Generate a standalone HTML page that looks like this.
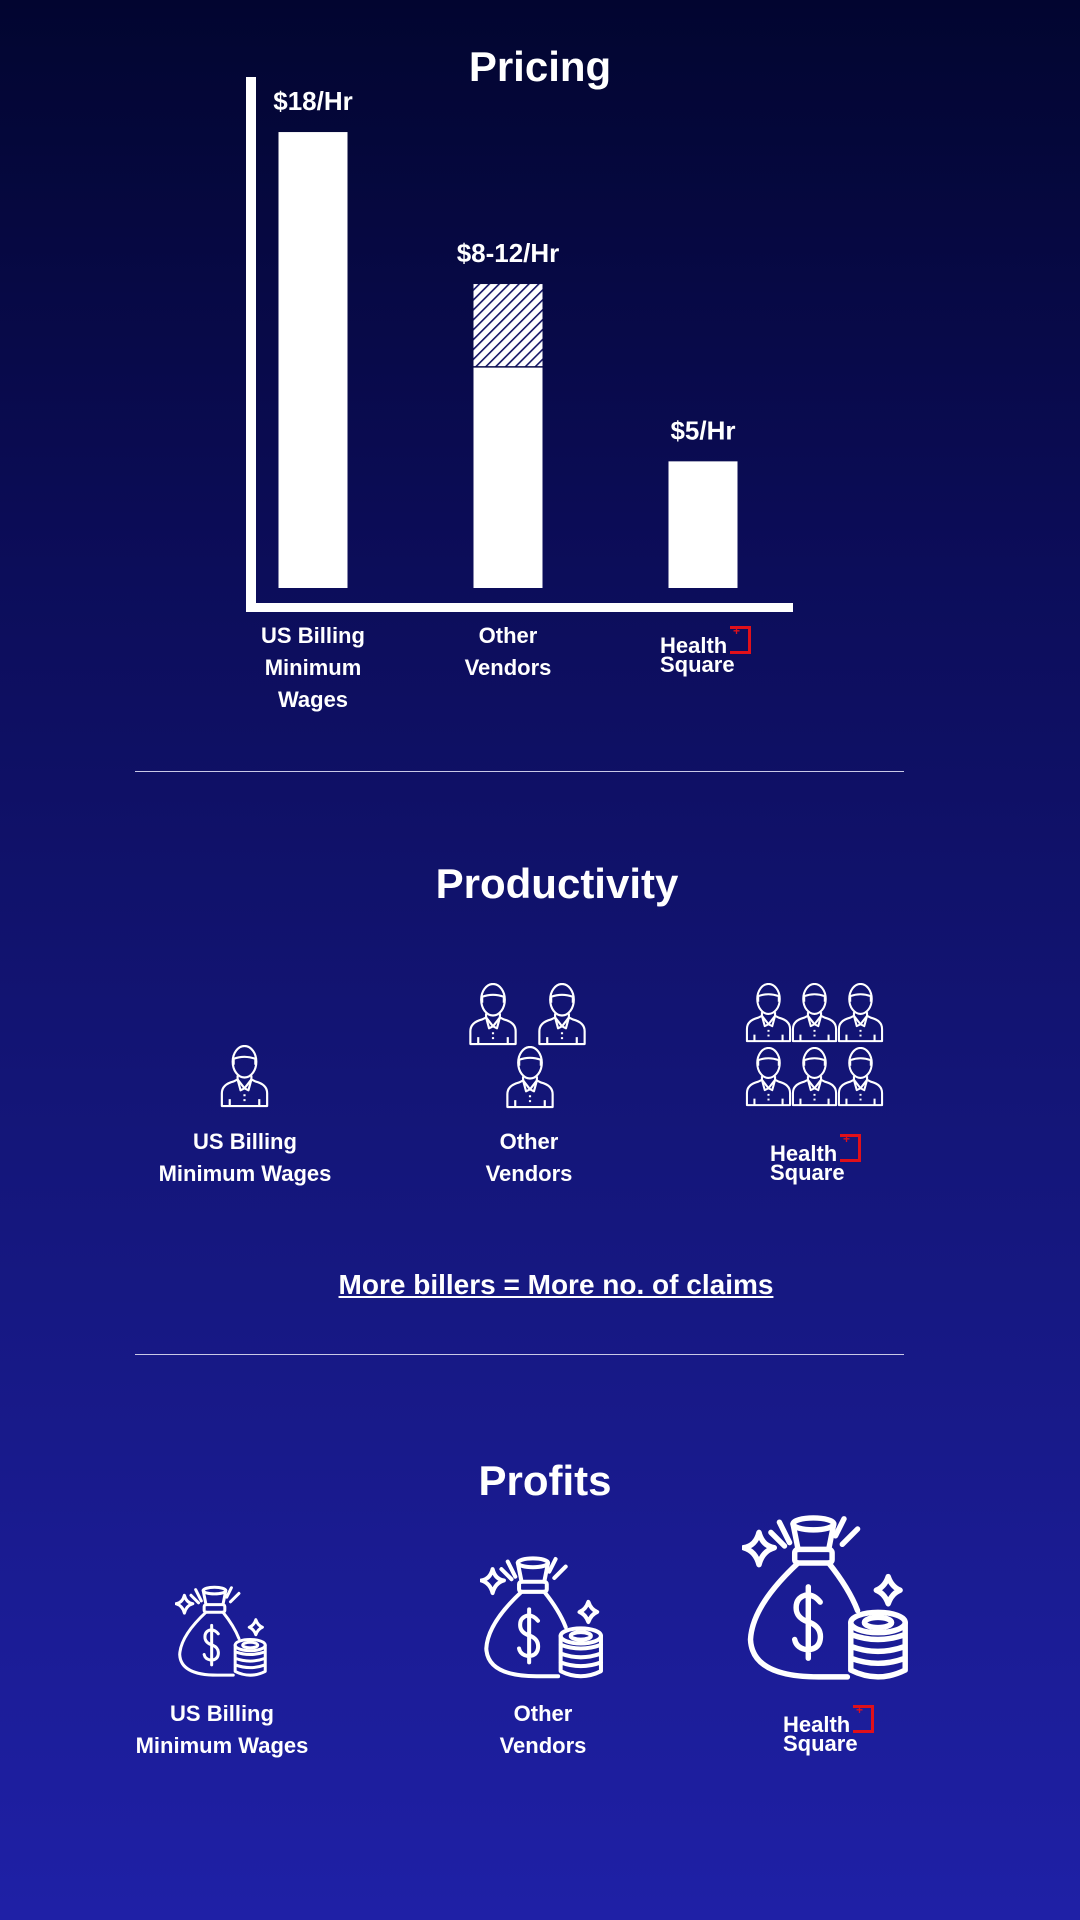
<!DOCTYPE html>
<html><head><meta charset="utf-8"><style>
html,body{margin:0;padding:0}
body{width:1080px;height:1920px;position:relative;overflow:hidden;background:linear-gradient(180deg,#020530 0%,#0c0d5a 30%,#14167a 60%,#1f20a6 100%);font-family:"Liberation Sans",sans-serif;color:#fff;font-weight:bold}
.t{position:absolute;text-align:center;white-space:nowrap}
.title{font-size:42px}
.lab{font-size:22px;line-height:32px}
.hs{position:absolute;font-size:22px;line-height:19px;text-align:left;white-space:nowrap}
.hs .h{position:relative;display:inline-block}
.hs .br{position:absolute;width:18px;height:22px;border:3px solid #e0101a;border-left:none;top:-10px;left:70px}
.hs .br::after{content:"+";position:absolute;left:3px;top:-4px;font-size:12px;line-height:12px;color:#e0101a}
.div{position:absolute;left:135px;width:769px;height:1px;background:#c9c9e6}
svg{position:absolute;left:0;top:0}
</style></head><body>
<svg width="1080" height="1920">
<defs>
<pattern id="hatch" width="7" height="7" patternUnits="userSpaceOnUse" patternTransform="rotate(45)">
<rect width="7" height="7" fill="#ffffff"/><rect width="1.6" height="7" fill="#141566"/></pattern>
<symbol id="person" viewBox="0 0 50 64">
<g fill="none" stroke="#fff" stroke-width="2.2" stroke-linejoin="round">
<ellipse cx="25" cy="17" rx="12" ry="16"/>
<path d="M14,20 L14,14 Q25,10 36,14 L36,20"/>
<path d="M2,62 L2,49 Q2,40 14,37 L18,35 L25,44 L32,35 L36,37 Q48,40 48,49 L48,62 Z"/>
<path d="M18,35 L18,31 M32,35 L32,31 M18,35 L21,46 L25,44 L29,46 L32,35"/>
<path d="M10,55 L10,62 M40,55 L40,62 M25,50 L25,52 M25,55 L25,57"/>
</g></symbol>
<symbol id="bag" viewBox="0 0 100 100">
<g fill="none" stroke="#fff" stroke-width="3.2" stroke-linecap="round" stroke-linejoin="round">
<ellipse cx="42" cy="7" rx="12" ry="3.5"/>
<path d="M30,7 L33,22 M54,7 L51,22"/>
<rect x="31" y="22" width="22" height="8" rx="2"/>
<path d="M33,30 Q6,55 5,75 Q6,97 45,97 L62,97"/>
<path d="M51,30 Q63,45 68,58"/>
<path d="M22,6 L28,18 M17,12 L25,20 M60,4 L55,14 M68,10 L59,19"/>
<path d="M10,12 Q12,20 19,21 Q12,23 10,31 Q8,23 1,21 Q8,20 10,12 Z"/>
<path d="M86,38 Q88,44 93,46 Q88,48 86,54 Q84,48 79,46 Q84,44 86,38 Z"/>
<ellipse cx="80" cy="65" rx="16" ry="6"/><ellipse cx="80" cy="65" rx="8" ry="3"/>
<path d="M64,65 L64,93 Q80,101 96,93 L96,65 M64,72 Q80,78 96,72 M64,79 Q80,85 96,79 M64,86 Q80,92 96,86"/>
<path d="M46,53 Q42,48 37,49 Q31,51 32,58 Q33,63 40,65 Q47,68 46,75 Q45,81 38,81 Q32,80 31,75 M39,44 L39,86"/>
</g></symbol>
</defs>
<rect x="246" y="77" width="10" height="534" fill="#fff"/>
<rect x="246" y="603" width="547" height="9" fill="#fff"/>
<g id="bars"></g>
<g>
<use href="#person" x="219" y="1045" width="51" height="63"/>
<use href="#person" x="468" y="983" width="50" height="63"/>
<use href="#person" x="537" y="983" width="50" height="63"/>
<use href="#person" x="505" y="1046" width="50" height="63"/>
<use href="#person" x="745" y="983" width="47" height="60"/>
<use href="#person" x="791" y="983" width="47" height="60"/>
<use href="#person" x="837" y="983" width="47" height="60"/>
<use href="#person" x="745" y="1047" width="47" height="60"/>
<use href="#person" x="791" y="1047" width="47" height="60"/>
<use href="#person" x="837" y="1047" width="47" height="60"/>
</g>
<g>
<use href="#bag" x="175" y="1583" width="94" height="96"/>
<use href="#bag" x="480" y="1553" width="126" height="128"/>
<use href="#bag" x="742" y="1512" width="170" height="170"/>
</g>
</svg>
<script>
const categories=['US Billing Minimum Wages','Other Vendors','Health Square'];
const baseValues=[18,8.7,5];
const topValues=[18,12,5];
const priceLabels=['$18/Hr','$8-12/Hr','$5/Hr'];
(function(){
const NS='http://www.w3.org/2000/svg';
const g=document.getElementById('bars');
const y=v=>588-v*25.33;
const xc=i=>313+i*195;
const W=69;
categories.forEach((c,i)=>{
 if(topValues[i]>baseValues[i]){
  const h=document.createElementNS(NS,'rect');
  
  
  h.setAttribute('x',xc(i)-W/2);h.setAttribute('y',y(topValues[i]));
  h.setAttribute('width',W);h.setAttribute('height',y(baseValues[i])-y(topValues[i])-1.5);
  h.setAttribute('fill','url(#hatch)');g.appendChild(h);
 }
 const r=document.createElementNS(NS,'rect');
 
 
 r.setAttribute('x',xc(i)-W/2);r.setAttribute('y',y(baseValues[i]));
 r.setAttribute('width',W);r.setAttribute('height',588-y(baseValues[i]));
 r.setAttribute('fill','#fff');g.appendChild(r);
 const t=document.createElementNS(NS,'text');
 
 
 t.setAttribute('x',xc(i));t.setAttribute('y',y(topValues[i])-22);
 t.setAttribute('text-anchor','middle');t.setAttribute('fill','#fff');
 t.setAttribute('font-size','26');t.setAttribute('font-weight','bold');
 t.setAttribute('font-family','Liberation Sans, sans-serif');
 t.textContent=priceLabels[i];g.appendChild(t);
});
})();
</script>
<div class="t title" style="left:440px;width:200px;top:43px">Pricing</div>
<div class="t lab" style="left:213px;width:200px;top:620px">US Billing<br>Minimum<br>Wages</div>
<div class="t lab" style="left:408px;width:200px;top:620px">Other<br>Vendors</div>
<div class="hs" style="left:660px;top:636px"><span class="h">Health<span class="br"></span></span><br>Square</div>
<div class="div" style="top:771px"></div>
<div class="t title" style="left:407px;width:300px;top:860px">Productivity</div>
<div class="t lab" style="left:145px;width:200px;top:1126px">US Billing<br>Minimum Wages</div>
<div class="t lab" style="left:429px;width:200px;top:1126px">Other<br>Vendors</div>
<div class="hs" style="left:770px;top:1144px"><span class="h">Health<span class="br"></span></span><br>Square</div>
<div class="t" style="left:256px;width:600px;top:1269px;font-size:28px;text-decoration:underline">More billers = More no. of claims</div>
<div class="div" style="top:1354px"></div>
<div class="t title" style="left:395px;width:300px;top:1457px">Profits</div>
<div class="t lab" style="left:122px;width:200px;top:1698px">US Billing<br>Minimum Wages</div>
<div class="t lab" style="left:443px;width:200px;top:1698px">Other<br>Vendors</div>
<div class="hs" style="left:783px;top:1715px"><span class="h">Health<span class="br"></span></span><br>Square</div>
</body></html>
